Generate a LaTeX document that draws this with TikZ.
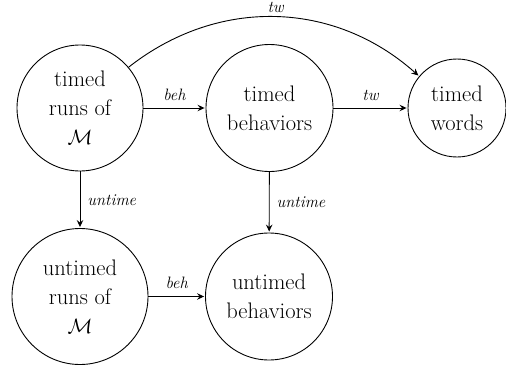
\documentclass[tikz,border=0pt]{standalone}
\usetikzlibrary{arrows.meta}
\begin{document}
\begin{tikzpicture}[x=1pt,y=-1pt,
  state/.style={draw,circle,line width=0.9pt,inner sep=0pt,align=center,
    font=\fontsize{22.5}{29}\selectfont},
  arr/.style={line width=0.9pt,-{Stealth[length=7pt,width=6.5pt,inset=2.5pt]},shorten >=1pt},
  lbl/.style={inner sep=7pt,font=\fontsize{16.5}{19}\selectfont\itshape}]
\useasboundingbox (0,0) rectangle (506,369);
\node[state,minimum size=126pt] (tr) at (80,108) {timed\\runs of\\$\mathcal{M}$};
\node[state,minimum size=127pt] (tb) at (269.5,108) {timed\\behaviors};
\node[state,minimum size=98pt] (tw) at (457,108) {timed\\words};
\node[state,minimum size=136pt] (ur) at (80,296.5) {untimed\\runs of\\$\mathcal{M}$};
\node[state,minimum size=127pt] (ub) at (269,296.5) {untimed\\behaviors};
\draw[arr] (tr) -- node[lbl,above] {beh} (tb);
\draw[arr] (tb) -- node[lbl,above] {tw} (tw);
\draw[arr] (tr) to[bend left=40] node[lbl,above,inner sep=4pt] {tw} (tw);
\draw[arr] (tr) -- node[lbl,right] {untime} (ur);
\draw[arr] (tb) -- node[lbl,right] {untime} (ub);
\draw[arr] (ur) -- node[lbl,above] {beh} (ub);
\end{tikzpicture}
\end{document}
